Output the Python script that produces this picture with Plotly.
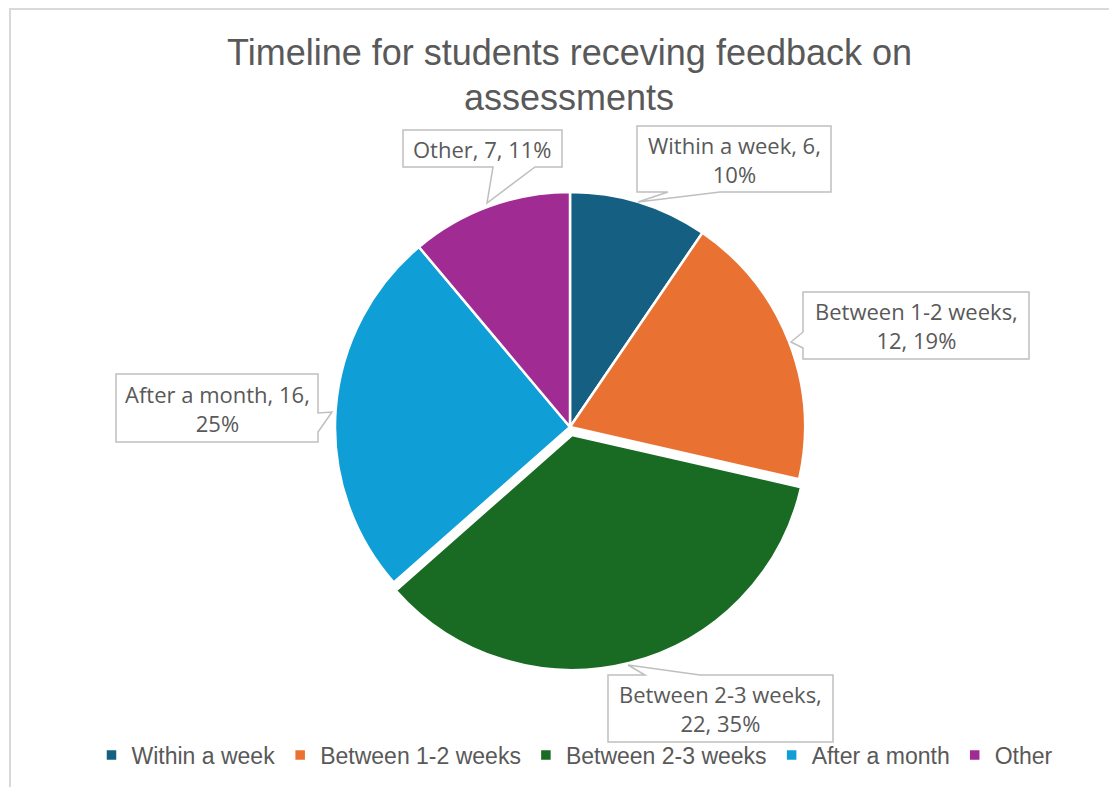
"""Timeline for students receiving feedback - pie with callout labels"""
import plotly.graph_objects as go

categories = ["Within a week", "Between 1-2 weeks", "Between 2-3 weeks", "After a month", "Other"]
counts = [6, 12, 22, 16, 7]
pct_labels = ["10%", "19%", "35%", "25%", "11%"]
colors = ["#156082", "#E97132", "#196B24", "#0F9ED5", "#A02B93"]
pulls = [0, 0, 0.035, 0, 0]

W, H = 1117, 787
OFF = 8  # page body margin
GREY = "#595959"


def px(x):
    return (x - OFF) / W


def py(y):
    return 1 - (y - OFF) / H


# callout boxes (left, top, right, bottom) and their pointer (tip, base on which side)
callouts = {
    "Within a week": dict(box=(637, 126, 831, 192), tip=(638, 202), side="bottom", base=(668, 720)),
    "Between 1-2 weeks": dict(box=(803, 292, 1029, 359), tip=(791, 342), side="left", base=(332, 348)),
    "Between 2-3 weeks": dict(box=(608, 675, 833, 742), tip=(628, 665), side="top", base=(645, 700)),
    "After a month": dict(box=(116, 374, 318, 442), tip=(332, 412), side="right", base=(413, 432)),
    "Other": dict(box=(403, 130, 562, 167), tip=(487, 203), side="bottom", base=(493, 535)),
}
label_text = {
    "Within a week": "Within a week, {c},<br>{p}",
    "Between 1-2 weeks": "Between 1-2 weeks,<br>{c}, {p}",
    "Between 2-3 weeks": "Between 2-3 weeks,<br>{c}, {p}",
    "After a month": "After a month, {c},<br>{p}",
    "Other": "Other, {c}, {p}",
}


def callout_path(box, tip, side, base):
    l, t, r, b = box
    tx, ty = tip
    b1, b2 = base
    pts = [(l, t)]
    if side == "top":
        pts += [(b1, t), (tx, ty), (b2, t)]
    pts += [(r, t)]
    if side == "right":
        pts += [(r, b1), (tx, ty), (r, b2)]
    pts += [(r, b)]
    if side == "bottom":
        pts += [(b2, b), (tx, ty), (b1, b)]
    pts += [(l, b)]
    if side == "left":
        pts += [(l, b2), (tx, ty), (l, b1)]
    d = "M" + " L".join(f"{px(x):.5f},{py(y):.5f}" for x, y in pts) + " Z"
    return d


R = 235 * 1.035
fig = go.Figure(go.Pie(
    labels=categories,
    values=counts,
    sort=False,
    direction="clockwise",
    rotation=0,
    pull=pulls,
    marker=dict(colors=colors, line=dict(color="white", width=2.5)),
    textinfo="none",
    hoverinfo="label+value+percent",
    domain=dict(x=[px(570 - R), px(570 + R)], y=[py(427 + R), py(427 - R)]),
))

shapes = [dict(
    type="rect", xref="paper", yref="paper",
    x0=px(10), x1=1.05, y0=-0.05, y1=py(9),
    line=dict(color="#d9d9d9", width=2), fillcolor="rgba(0,0,0,0)", layer="below",
)]
annotations = []
for cat, c, p in zip(categories, counts, pct_labels):
    co = callouts[cat]
    shapes.append(dict(
        type="path", xref="paper", yref="paper",
        path=callout_path(co["box"], co["tip"], co["side"], co["base"]),
        line=dict(color="#bfbfbf", width=1.5), fillcolor="white", layer="above",
    ))
    l, t, r, b = co["box"]
    annotations.append(dict(
        xref="paper", yref="paper", x=px((l + r) / 2), y=py((t + b) / 2),
        xanchor="center", yanchor="middle", showarrow=False,
        text=label_text[cat].format(c=c, p=p),
        font=dict(family="Open Sans, Liberation Sans, sans-serif", size=22, color=GREY),
    ))

# title as two centred lines
annotations.append(dict(
    xref="paper", yref="paper", x=px(569), y=py(52), xanchor="center", yanchor="middle",
    showarrow=False, text="Timeline for students receving feedback on",
    font=dict(family="Liberation Sans, Arial, sans-serif", size=36, color=GREY),
))
annotations.append(dict(
    xref="paper", yref="paper", x=px(569), y=py(97), xanchor="center", yanchor="middle",
    showarrow=False, text="assessments",
    font=dict(family="Liberation Sans, Arial, sans-serif", size=36, color=GREY),
))

fig.update_layout(
    width=W, height=H, autosize=False,
    margin=dict(l=0, r=0, t=0, b=0),
    paper_bgcolor="white", plot_bgcolor="white",
    legend=dict(
        orientation="h", x=px(575), xanchor="center", y=py(755), yanchor="middle",
        bgcolor="rgba(0,0,0,0)",
        font=dict(family="Liberation Sans, Arial, sans-serif", size=23, color=GREY),
    ),
    shapes=shapes,
    annotations=annotations,
)

fig.write_html("out.html")
